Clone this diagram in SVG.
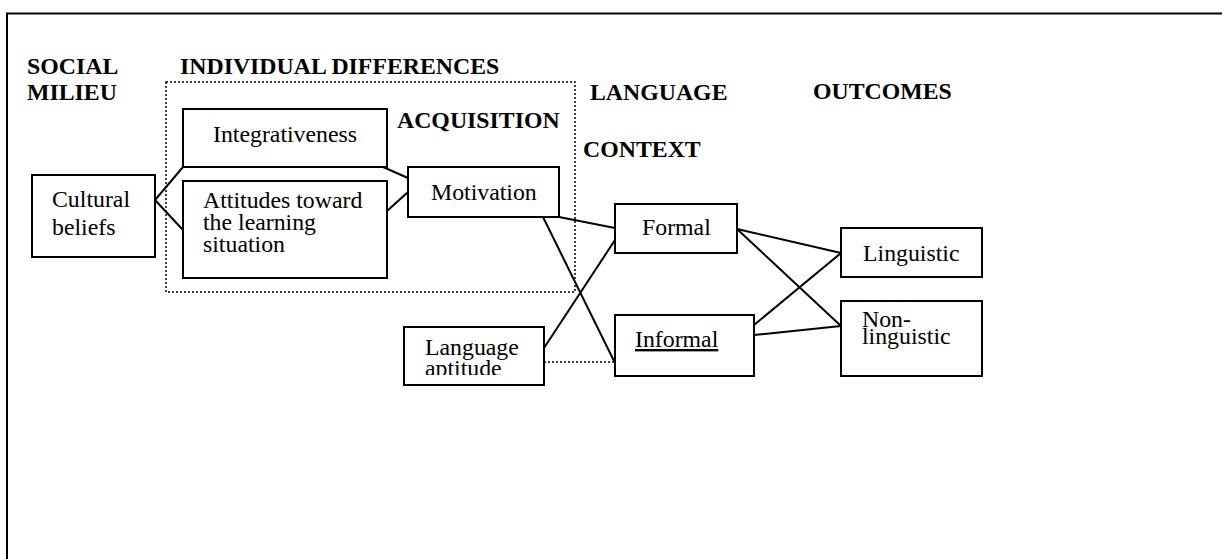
<svg xmlns="http://www.w3.org/2000/svg" width="1222" height="559" viewBox="0 0 1222 559">
<style>
  .box { fill: #fff; stroke: #000; stroke-width: 2; }
  .t { font-family: "Liberation Serif", "Times New Roman", serif; font-size: 23.8px; fill: #000; }
  .h { font-family: "Liberation Serif", "Times New Roman", serif; font-size: 23.8px; font-weight: bold; fill: #000; }
  .ln { stroke: #000; stroke-width: 2; fill: none; }
  .dot { stroke: #000; stroke-width: 1.5; stroke-dasharray: 2 2; fill: none; }
</style>
<defs>
  <clipPath id="aptClip"><rect x="404" y="327" width="140" height="48"/></clipPath>
</defs>
<rect width="1222" height="559" fill="#fff"/>
<!-- outer frame -->
<g id="frame">
  <line x1="6" y1="13.5" x2="1222" y2="13.5" stroke="#000" stroke-width="2.2"/>
  <line x1="7" y1="13" x2="7" y2="559" stroke="#000" stroke-width="2"/>
</g>
<!-- headings -->
<g id="headings">
  <text class="h" x="27" y="74">SOCIAL</text>
  <text class="h" x="27" y="100">MILIEU</text>
  <text class="h" x="180" y="74">INDIVIDUAL DIFFERENCES</text>
  <text class="h" x="397" y="128">ACQUISITION</text>
  <text class="h" x="590" y="100">LANGUAGE</text>
  <text class="h" x="583" y="157">CONTEXT</text>
  <text class="h" x="813" y="99">OUTCOMES</text>
</g>
<!-- dotted grouping -->
<g id="individual-differences-group">
  <rect class="dot" x="166" y="82" width="409" height="210"/>
</g>
<!-- connectors -->
<g id="connectors">
  <line class="ln" x1="155" y1="200" x2="183" y2="167"/>
  <line class="ln" x1="155" y1="200" x2="183" y2="230"/>
  <line class="ln" x1="383" y1="167" x2="408" y2="178"/>
  <line class="ln" x1="387" y1="211" x2="408" y2="192"/>
  <line class="ln" x1="559" y1="217" x2="615" y2="228"/>
  <line class="ln" x1="543" y1="217" x2="615" y2="363"/>
  <line class="ln" x1="544" y1="348" x2="615" y2="240"/>
  <line class="dot" x1="544" y1="362" x2="615" y2="362"/>
  <line class="ln" x1="737" y1="229" x2="841" y2="253"/>
  <line class="ln" x1="737" y1="229" x2="841" y2="326"/>
  <line class="ln" x1="754" y1="325" x2="841" y2="253"/>
  <line class="ln" x1="754" y1="335" x2="841" y2="326"/>
</g>
<!-- nodes -->
<g id="cultural-beliefs">
  <rect class="box" x="32" y="175" width="123" height="82"/>
  <text class="t" x="52" y="207">Cultural</text>
  <text class="t" x="52" y="235">beliefs</text>
</g>
<g id="integrativeness">
  <rect class="box" x="183" y="109" width="204" height="58"/>
  <text class="t" x="213" y="142">Integrativeness</text>
</g>
<g id="attitudes">
  <rect class="box" x="183" y="181" width="204" height="97"/>
  <text class="t" x="203" y="208">Attitudes toward</text>
  <text class="t" x="203" y="230">the learning</text>
  <text class="t" x="203" y="252">situation</text>
</g>
<g id="motivation">
  <rect class="box" x="408" y="167" width="151" height="50"/>
  <text class="t" x="431" y="200">Motivation</text>
</g>
<g id="language-aptitude">
  <rect class="box" x="404" y="327" width="140" height="58"/>
  <g clip-path="url(#aptClip)">
    <text class="t" x="425" y="355">Language</text>
    <text class="t" x="425" y="376">aptitude</text>
  </g>
</g>
<g id="formal">
  <rect class="box" x="615" y="204" width="122" height="49"/>
  <text class="t" x="642" y="235">Formal</text>
</g>
<g id="informal">
  <rect class="box" x="615" y="315" width="139" height="61"/>
  <text class="t" x="635" y="347" text-decoration="underline">Informal</text>
</g>
<g id="linguistic">
  <rect class="box" x="841" y="228" width="141" height="49"/>
  <text class="t" x="863" y="261">Linguistic</text>
</g>
<g id="non-linguistic">
  <rect class="box" x="841" y="301" width="141" height="75"/>
  <text class="t" x="862" y="327">Non-</text>
  <text class="t" x="862" y="344">linguistic</text>
</g>
</svg>
